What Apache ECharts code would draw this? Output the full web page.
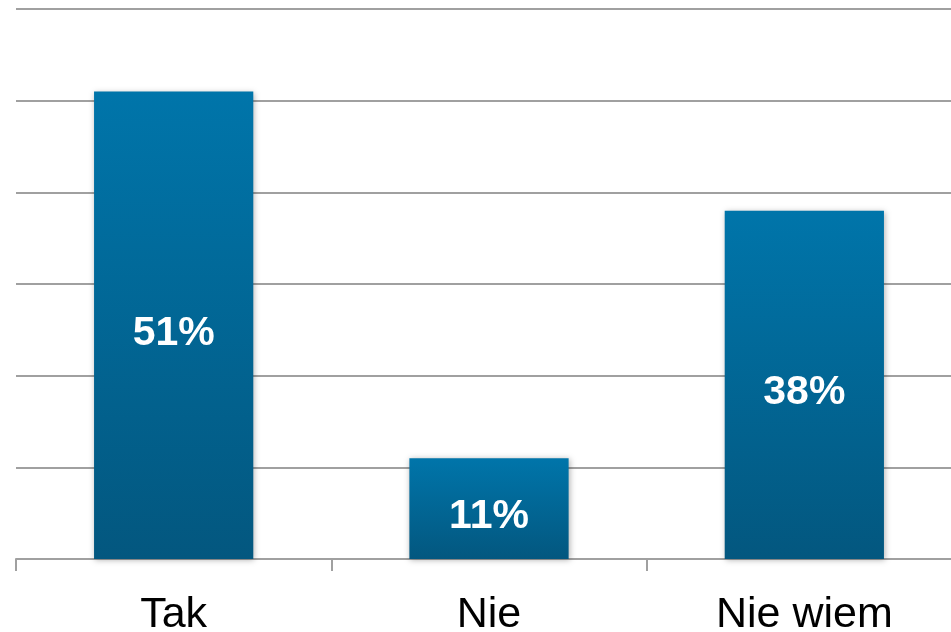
<!DOCTYPE html>
<html><head><meta charset="utf-8">
<script src="https://cdn.jsdelivr.net/npm/echarts@6/dist/echarts.min.js"></script>
<style>html,body{margin:0;padding:0;background:#fff}#c{width:951px;height:632px}</style>
</head><body><div id="c"></div>
<script>
const categories = ['Tak', 'Nie', 'Nie wiem'];
const values = [51, 11, 38];
const chart = echarts.init(document.getElementById('c'));
chart.setOption({
  animation: false,
  grid: { left: 16, width: 946, top: 9, height: 550, outerBoundsMode: 'none', containLabel: false },
  xAxis: {
    type: 'category', data: categories,
    axisLine: { lineStyle: { color: '#a0a0a0', width: 2 } },
    axisTick: { show: true, length: 12, lineStyle: { color: '#a0a0a0', width: 2 } },
    axisLabel: { color: '#000', fontFamily: 'Liberation Sans, Arial', fontSize: 43, margin: 35 }
  },
  yAxis: {
    type: 'value', min: 0, max: 60, interval: 10,
    axisLabel: { show: false }, axisLine: { show: false }, axisTick: { show: false },
    splitLine: { lineStyle: { color: '#a0a0a0', width: 2 } }
  },
  series: [{
    type: 'bar', data: values, barWidth: '50.5%',
    itemStyle: {
      color: new echarts.graphic.LinearGradient(0, 0, 0, 1, [
        { offset: 0, color: '#0075aa' }, { offset: 1, color: '#03577f' }
      ]),
      shadowColor: 'rgba(0,0,0,0.3)', shadowBlur: 6, shadowOffsetX: 1, shadowOffsetY: 1
    },
    label: {
      show: true, position: 'inside', formatter: '{c}%', color: '#fff',
      fontFamily: 'Liberation Sans, Arial', fontWeight: 'bold', fontSize: 41, offset: [0, 8]
    }
  }]
});
</script></body></html>
